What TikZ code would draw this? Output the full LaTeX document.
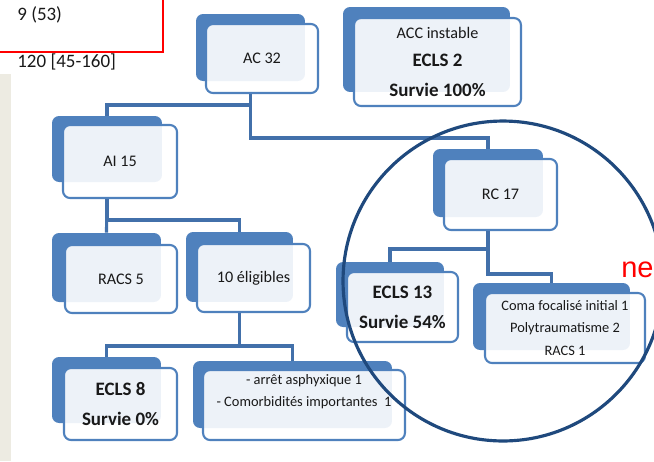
\documentclass[tikz,border=0pt]{standalone}
\usepackage{fontspec}
\setmainfont{Carlito}
\newfontfamily\arialfont{Liberation Sans}
\definecolor{smblue}{RGB}{79,129,189}
\definecolor{smline}{RGB}{66,112,170}
\definecolor{smring}{RGB}{31,73,125}
\definecolor{smpage}{RGB}{237,235,226}
\tikzset{
  bk/.style={rectangle,rounded corners=4pt,fill=smblue,inner sep=0pt},
  fr/.style={rectangle,rounded corners=4pt,draw=smblue,line width=1.2pt,
             fill=white,fill opacity=0.9,text opacity=1,text=black!90,
             inner sep=1pt,align=center,font=\fontsize{9.2}{13}\selectfont},
  frb/.style={fr,font=\fontsize{10.8}{17}\selectfont\bfseries},
  frs/.style={fr,font=\fontsize{8.2}{12.8}\selectfont},
  link/.style={smline,line width=1.8pt},
  stat/.style={anchor=west,inner sep=0pt,text=black!90,
               font=\fontsize{10.8}{13}\selectfont},
}
\begin{document}
\begin{tikzpicture}[x=0.02cm,y=-0.02cm]
  \useasboundingbox (0,0) rectangle (654,461);
  \clip (0,0) rectangle (654,461);
  % page edge and the framed figures
  \fill[smpage] (0,74) rectangle (11,461);
  \draw[red,line width=1.2pt] (-5,-5) rectangle (163,52);
  \node[stat] (grade) at (17,15) {9 (53)};
  \node[stat] (delay) at (17,62) {120 [45-160]};

  % boxes: back plate + front card
  \node[bk,minimum width=2.18cm,minimum height=1.34cm] (ac) at (250.5,47.5) {};
  \node[fr,minimum width=2.24cm,minimum height=1.38cm] (acf) at (262,58.5) {AC 32};
  \node[bk,minimum width=3.34cm,minimum height=1.70cm] (acc) at (426.5,49.5) {};
  \node[frb,minimum width=3.34cm,minimum height=1.76cm] (accf) at (437.5,62)
       {{\mdseries\fontsize{9.2}{11}\selectfont ACC instable}\\[-1pt] ECLS 2\\ Survie 100\%};
  \node[bk,minimum width=2.20cm,minimum height=1.32cm] (ai) at (107,149) {};
  \node[fr,minimum width=2.28cm,minimum height=1.46cm] (aif) at (120,161.5) {AI 15};
  \node[bk,minimum width=2.18cm,minimum height=1.38cm] (racs) at (106.5,267.5) {};
  \node[fr,minimum width=2.24cm,minimum height=1.36cm] (racsf) at (121,279) {RACS 5};
  \node[bk,minimum width=2.14cm,minimum height=1.40cm] (elig) at (239.5,267) {};
  \node[fr,minimum width=2.26cm,minimum height=1.36cm] (eligf) at (253.5,278) {10 éligibles};
  \node[bk,minimum width=2.18cm,minimum height=1.32cm] (ecmu) at (106.5,390) {};
  \node[frb,minimum width=2.26cm,minimum height=1.44cm] (ecmuf) at (120.5,404) {ECLS 8\\ Survie 0\%};
  \node[bk,minimum width=3.98cm,minimum height=1.34cm] (como) at (292.5,394.5) {};
  \node[frs,minimum width=4.04cm,minimum height=1.40cm] (comof) at (304,405)
       {- arrêt asphyxique 1\\- Comorbidités importantes\ \ 1\\ \strut};
  \node[bk,minimum width=2.20cm,minimum height=1.36cm] (rc) at (488,183) {};
  \node[fr,minimum width=2.26cm,minimum height=1.42cm] (rcf) at (500.5,194.5) {RC 17};
  \node[bk,minimum width=2.16cm,minimum height=1.30cm] (ecrc) at (390,294.5) {};
  \node[frb,minimum width=2.22cm,minimum height=1.40cm] (ecrcf) at (402.5,307) {ECLS 13\\ Survie 54\%};
  \node[bk,minimum width=3.14cm,minimum height=1.34cm] (coma) at (551.5,316.5) {};
  \node[frs,minimum width=3.20cm,minimum height=1.40cm] (comaf) at (565,328)
       {Coma focalisé initial 1\\ Polytraumatisme 2\\ RACS 1};

  % tree links
  \draw[link] (ac |- acf.south) -- ++(0,11) -| (ai.north);
  \draw[link] (ac |- acf.south) -- ++(0,44) -| (rc.north);
  \draw[link] (ai |- aif.south) -- (racs.north);
  \draw[link] (ai |- aif.south) -- ++(0,21) -| (elig.north);
  \draw[link] (elig |- eligf.south) -- ++(0,33) -| (ecmu.north);
  \draw[link] (elig |- eligf.south) -- ++(0,33) -| (como.north);
  \draw[link] (rc |- rcf.south) -- ++(0,18) -| (ecrc.north);
  \draw[link] (rc |- rcf.south) -- ++(0,43) -| (coma.north);

  % ring round the RC branch
  \draw[smring,line width=1.8pt] (503,281) circle (3.2cm);
  \node[anchor=base west,inner sep=0pt,text=red,
        font=\arialfont\fontsize{16.5}{18}\selectfont] (cut) at (621,277) {ne};
\end{tikzpicture}
\end{document}
